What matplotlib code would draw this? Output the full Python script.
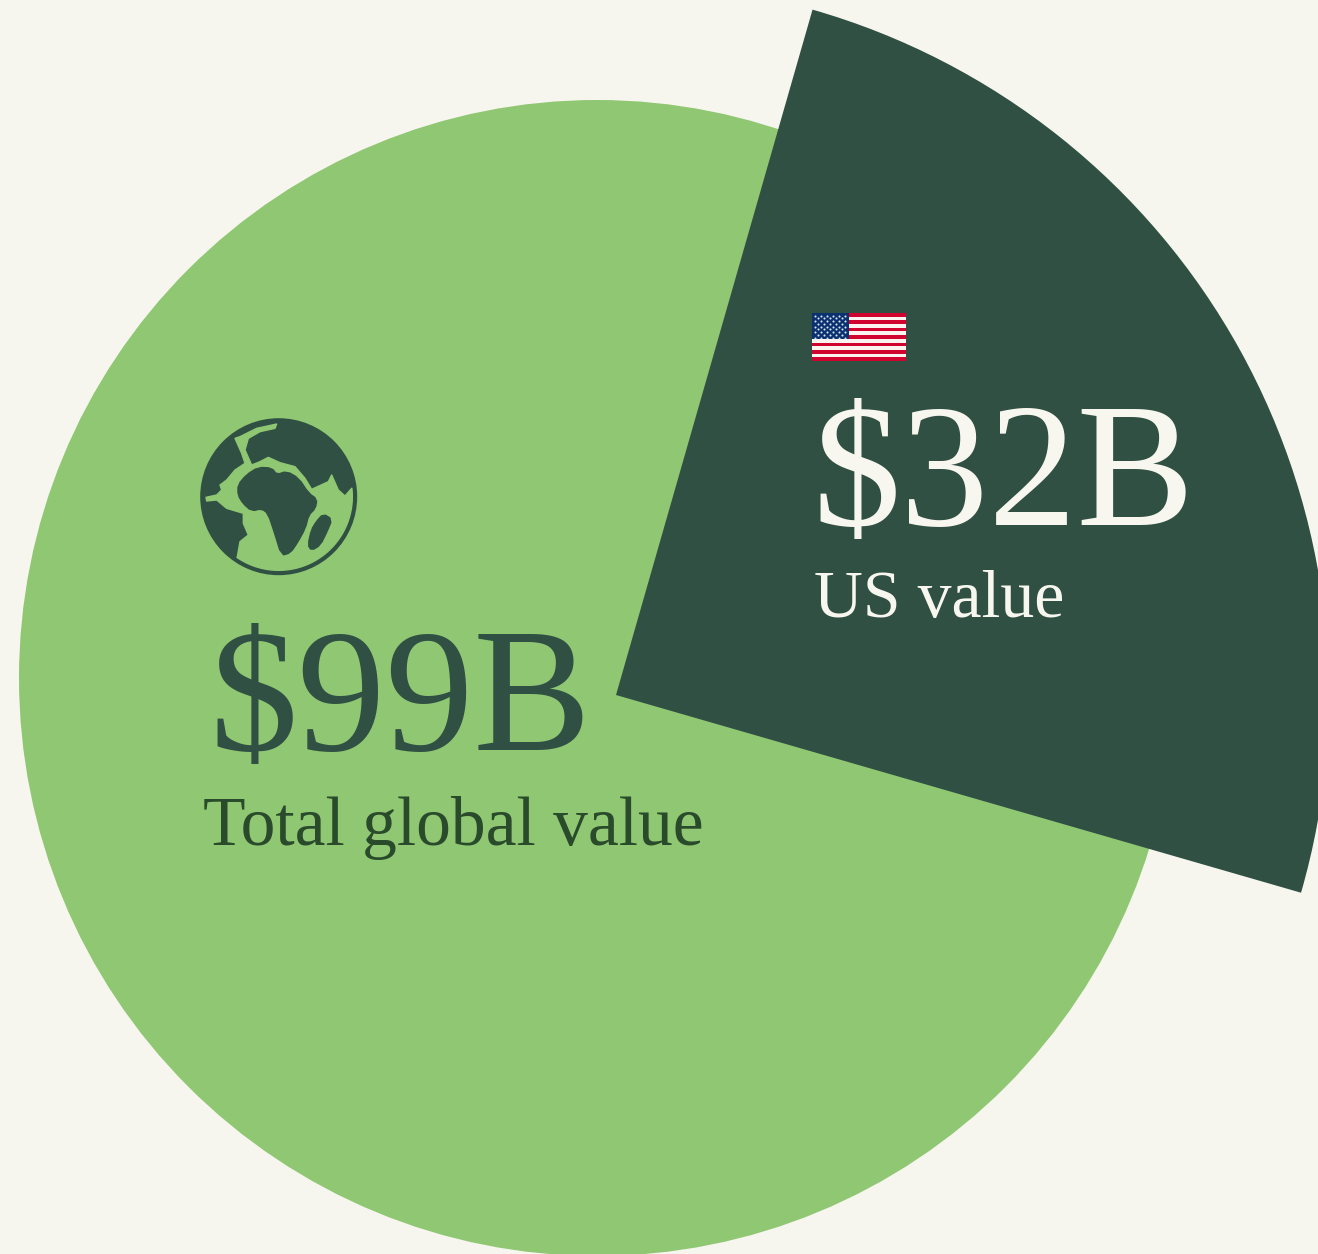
import numpy as np
import matplotlib
matplotlib.use('Agg')
import matplotlib.pyplot as plt
from matplotlib.patches import Circle, Wedge, Polygon, Rectangle

W, H = 1318, 1254

# chart values
labels = ['Total global value', 'US value']
values = ['$99B', '$32B']

bg = '#F6F6EE'
green = '#90C773'
dark = '#305043'
label_green = '#2A4B2B'
cream = '#F8F7EF'

# icon outlines, in pixels of the picture
ocean_land = [(290,72),(230,85),(180,110),(165,115),(185,160),(195,190),(165,210),(140,240),(120,255),
              (125,270),(110,285),(78,292),(80,303),(110,300),(140,325),(190,340),(190,370),(205,405),
              (180,425),(172,470)]
ocean_east = [(515,265),(495,288),(475,270),(455,225),(445,245),(395,268),(375,235),(345,200),(300,188),
              (265,172),(240,185),(215,195),(195,150),(205,115),(240,95),(285,85)]
africa = [(175,255),(200,225),(235,203),(275,205),(290,225),(320,215),(355,235),(385,280),(410,298),
          (405,325),(385,345),(375,385),(350,430),(330,458),(305,465),(285,400),(265,340),(245,325),
          (215,332),(190,310),(175,285)]
madagascar = [(430,343),(455,358),(440,395),(420,435),(395,450),(385,435),(395,390),(410,365)]


def zoomed(pts):
    pts = np.array(pts, dtype=float)
    return np.column_stack([pts[:, 0] / 3 + 180, H - (pts[:, 1] / 3 + 400)])


def soften(pts, rounds=1):
    # corner cutting, the icon has no hard edges
    pts = np.asarray(pts, dtype=float)
    for _ in range(rounds):
        nxt = np.roll(pts, -1, axis=0)
        pts = np.column_stack([0.75 * pts + 0.25 * nxt, 0.25 * pts + 0.75 * nxt]).reshape(-1, 2)
    return pts


fig = plt.figure(figsize=(W / 100, H / 100), dpi=100, facecolor=bg)
ax = fig.add_axes([0, 0, 1, 1])
ax.set_xlim(0, W)
ax.set_ylim(0, H)
ax.axis('off')

# big circle and the pulled out slice
ax.add_patch(Circle((597, H - 678), 578, fc=green, ec='none'))
ax.add_patch(Wedge((616, H - 695), 713, -16.1, 74, fc=dark, ec='none'))

# globe, the ocean runs along the inside of the rim from south west to east
a0 = np.arctan2(470 - 290, 172 - 296)
a1 = np.arctan2(265 - 290, 515 - 296)
arc_t = np.linspace(a0, a1, 60)
rim = [(296 + 221 * np.cos(t), 290 + 221 * np.sin(t)) for t in arc_t]
ax.add_patch(Circle((278.7, H - 496.7), 78.5, fc=dark, ec='none'))
ax.add_patch(Polygon(zoomed(ocean_land + rim + ocean_east), closed=True, fc=green, ec=green, lw=1, joinstyle='round'))
ax.add_patch(Polygon(zoomed(soften(africa)), closed=True, fc=dark, ec=dark, lw=1.5, joinstyle='round'))
ax.add_patch(Polygon(zoomed(soften(madagascar)), closed=True, fc=dark, ec=dark, lw=1.5, joinstyle='round'))

# flag
fx, fy, fw, fh = 812, 313, 93.5, 48
sh = fh / 13
for i in range(13):
    c = '#D0042F' if i % 2 == 0 else '#FBF3F0'
    ax.add_patch(Rectangle((fx, H - fy - (i + 1) * sh), fw, sh, fc=c, ec='none'))
ax.add_patch(Rectangle((fx, H - fy - 7 * sh), 37, 7 * sh, fc='#0A3270', ec='none'))
star_x, star_y = [], []
for r in range(9):
    n = 6 if r % 2 == 0 else 5
    for k in range(n):
        star_x.append(fx + 3.1 + k * 6 + (0 if r % 2 == 0 else 3))
        star_y.append(H - fy - 2.7 - r * 2.75)
ax.scatter(star_x, star_y, s=2.2, c='#DDE4F0', linewidths=0, zorder=3)

font = 'Liberation Serif'
ax.text(209, H - 750, values[0], family=font, fontsize=127, color=dark, ha='left', va='baseline')
ax.text(203, H - 845, labels[0], family=font, fontsize=50, color=label_green, ha='left', va='baseline')
ax.text(812, H - 525, values[1], family=font, fontsize=127, color=cream, ha='left', va='baseline')
ax.text(814, H - 617, labels[1], family=font, fontsize=48.8, color=cream, ha='left', va='baseline')

fig.savefig('out.png', dpi=100, facecolor=bg)
